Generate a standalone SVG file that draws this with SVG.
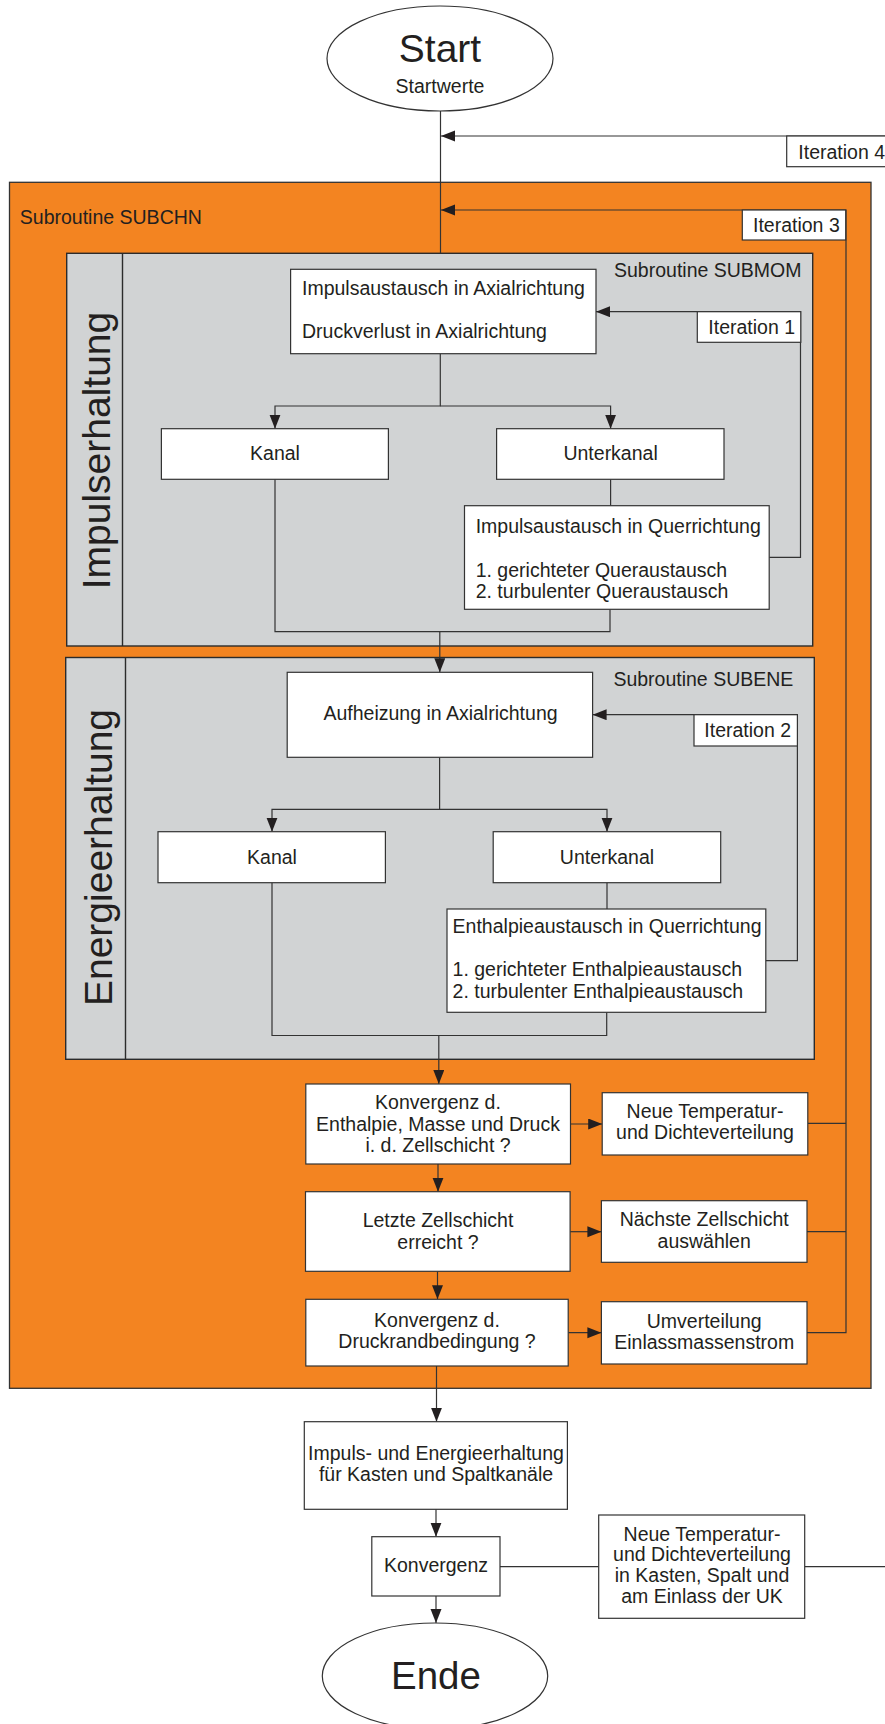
<svg xmlns="http://www.w3.org/2000/svg" width="885" height="1724" viewBox="0 0 885 1724">
<defs>
<marker id="arr" markerUnits="userSpaceOnUse" markerWidth="15" markerHeight="12" refX="14" refY="5.5" orient="auto">
<path d="M0,0 L14,5.5 L0,11 z" fill="#231F20"/>
</marker>
<style>
text{font-family:"Liberation Sans",Arial,Helvetica,sans-serif;fill:#231F20;font-size:19.5px}
.c{text-anchor:middle}
.big{font-size:39px}
.box{fill:#fff;stroke:#333;stroke-width:1.2}
.grey{fill:#D1D3D4;stroke:#2b2b2b;stroke-width:1.4}
.ln{fill:none;stroke:#333;stroke-width:1.2}
.a{marker-end:url(#arr)}
</style>
</defs>
<rect width="885" height="1724" fill="#fff"/>

<g id="subchn">
<rect x="9.5" y="182.3" width="861.5" height="1206" fill="#F38421" stroke="#333" stroke-width="1.3"/>
<text x="19.8" y="224.3">Subroutine SUBCHN</text>
</g>

<g id="impuls-section">
<rect class="grey" x="66.7" y="253.3" width="746" height="392.7"/>
<line x1="122.5" y1="253.3" x2="122.5" y2="646" stroke="#2b2b2b" stroke-width="1.4"/>
<text class="big c" transform="translate(110,450.5) rotate(-90)">Impulserhaltung</text>
<text x="614" y="277.3">Subroutine SUBMOM</text>
</g>

<g id="energie-section">
<rect class="grey" x="65.7" y="657.5" width="748.6" height="401.8"/>
<line x1="125.5" y1="657.5" x2="125.5" y2="1059.3" stroke="#2b2b2b" stroke-width="1.4"/>
<text class="big c" transform="translate(111.5,857.5) rotate(-90)">Energieerhaltung</text>
<text x="613.4" y="686">Subroutine SUBENE</text>
</g>

<g id="connectors">
<path class="ln" d="M440.5,111 V253.3"/>
<path class="ln a" d="M885,136 H441"/>
<path class="ln a" d="M807,1332.7 H846 V210 H441"/>
<path class="ln" d="M807.8,1123.3 H846 M807,1231.7 H846"/>
<path class="ln a" d="M769.2,557.3 H800.5 V311.7 H596"/>
<path class="ln a" d="M440.3,353.7 V406 H275 V428.7"/>
<path class="ln a" d="M440.3,406 H610.6 V428.7"/>
<path class="ln" d="M610.6,479.3 V505.7"/>
<path class="ln" d="M275,479.3 V631.7 H610 V609.3"/>
<path class="ln a" d="M439.8,631.7 V672.3"/>
<path class="ln a" d="M765.8,960.7 H797.4 V714.7 H592.6"/>
<path class="ln a" d="M439.6,757.3 V809.3 H272 V831.7"/>
<path class="ln a" d="M439.6,809.3 H607 V831.7"/>
<path class="ln" d="M607,882.7 V909"/>
<path class="ln" d="M272,882.7 V1035.5 H606.7 V1012.3"/>
<path class="ln a" d="M438.8,1035.5 V1084"/>
<path class="ln a" d="M438,1164 V1191.7"/>
<path class="ln a" d="M437.5,1271.3 V1299.3"/>
<path class="ln a" d="M436.5,1366 V1421.7"/>
<path class="ln a" d="M570.5,1124 H602.2"/>
<path class="ln a" d="M570.1,1231.7 H601.4"/>
<path class="ln a" d="M568.2,1332.7 H601.4"/>
<path class="ln a" d="M436,1509.3 V1536.7"/>
<path class="ln a" d="M436,1596 V1623"/>
<path class="ln" d="M500,1566.7 H598.7 M804.7,1566.7 H885"/>
</g>

<g id="start">
<ellipse cx="440" cy="58.5" rx="113" ry="52.5" fill="#fff" stroke="#333" stroke-width="1.2"/>
<text class="big c" x="440" y="62">Start</text>
<text class="c" x="440" y="93">Startwerte</text>
</g>

<g id="iteration4">
<rect class="box" x="786.7" y="136" width="110" height="30.7"/>
<text x="798.3" y="159.3">Iteration 4</text>
</g>

<g id="iteration3">
<rect class="box" x="742.3" y="210" width="103.4" height="30"/>
<text x="753" y="231.5">Iteration 3</text>
</g>

<g id="impuls-axial">
<rect class="box" x="290.6" y="269.3" width="305.4" height="84.4"/>
<text x="302" y="295">Impulsaustausch in Axialrichtung</text>
<text x="302" y="338.3">Druckverlust in Axialrichtung</text>
</g>

<g id="iteration1">
<rect class="box" x="697.3" y="311.7" width="103.5" height="30.6"/>
<text x="708.3" y="334.3">Iteration 1</text>
</g>

<g id="kanal-impuls">
<rect class="box" x="161.4" y="428.7" width="227" height="50.6"/>
<text class="c" x="275" y="460">Kanal</text>
</g>

<g id="unterkanal-impuls">
<rect class="box" x="496.6" y="428.7" width="227.4" height="50.6"/>
<text class="c" x="610.6" y="460">Unterkanal</text>
</g>

<g id="impuls-quer">
<rect class="box" x="464.5" y="505.7" width="304.7" height="103.6"/>
<text x="475.7" y="533.3">Impulsaustausch in Querrichtung</text>
<text x="475.7" y="576.7">1. gerichteter Queraustausch</text>
<text x="475.7" y="598.3">2. turbulenter Queraustausch</text>
</g>

<g id="aufheizung">
<rect class="box" x="287.2" y="672.3" width="305.4" height="85"/>
<text class="c" x="440.5" y="720">Aufheizung in Axialrichtung</text>
</g>

<g id="iteration2">
<rect class="box" x="694" y="714.7" width="103.4" height="31.3"/>
<text x="704.3" y="736.7">Iteration 2</text>
</g>

<g id="kanal-energie">
<rect class="box" x="158" y="831.7" width="227.4" height="51"/>
<text class="c" x="272" y="864">Kanal</text>
</g>

<g id="unterkanal-energie">
<rect class="box" x="493.2" y="831.7" width="227.5" height="51"/>
<text class="c" x="607" y="864">Unterkanal</text>
</g>

<g id="enthalpie-quer">
<rect class="box" x="447" y="909" width="318.8" height="103.3"/>
<text x="452.6" y="932.7">Enthalpieaustausch in Querrichtung</text>
<text x="452.6" y="976">1. gerichteter Enthalpieaustausch</text>
<text x="452.6" y="998.3">2. turbulenter Enthalpieaustausch</text>
</g>

<g id="konvergenz1">
<rect class="box" x="305.8" y="1084" width="264.7" height="80"/>
<text class="c" x="438" y="1109.3">Konvergenz d.</text>
<text class="c" x="438" y="1130.7">Enthalpie, Masse und Druck</text>
<text class="c" x="438" y="1152.3">i. d. Zellschicht ?</text>
</g>

<g id="neue-temp1">
<rect class="box" x="602.2" y="1092.7" width="205.6" height="62.3"/>
<text class="c" x="705" y="1117.7">Neue Temperatur-</text>
<text class="c" x="705" y="1139.3">und Dichteverteilung</text>
</g>

<g id="letzte">
<rect class="box" x="305.5" y="1191.7" width="264.6" height="79.6"/>
<text class="c" x="438" y="1226.7">Letzte Zellschicht</text>
<text class="c" x="438" y="1249.3">erreicht ?</text>
</g>

<g id="naechste">
<rect class="box" x="601.4" y="1200.7" width="205.6" height="61.6"/>
<text class="c" x="704.2" y="1225.7">Nächste Zellschicht</text>
<text class="c" x="704.2" y="1248.3">auswählen</text>
</g>

<g id="konvergenz2">
<rect class="box" x="305.8" y="1299.3" width="262.4" height="66.7"/>
<text class="c" x="437" y="1326.7">Konvergenz d.</text>
<text class="c" x="437" y="1348.3">Druckrandbedingung ?</text>
</g>

<g id="umverteilung">
<rect class="box" x="601.4" y="1301.7" width="205.6" height="62.3"/>
<text class="c" x="704.2" y="1328.3">Umverteilung</text>
<text class="c" x="704.2" y="1349.3">Einlassmassenstrom</text>
</g>

<g id="kasten">
<rect class="box" x="304.3" y="1421.7" width="263.1" height="87.6"/>
<text class="c" x="436" y="1460">Impuls- und Energieerhaltung</text>
<text class="c" x="436" y="1481">für Kasten und Spaltkanäle</text>
</g>

<g id="konvergenz3">
<rect class="box" x="371.8" y="1536.7" width="128.2" height="59.3"/>
<text class="c" x="436" y="1571.7">Konvergenz</text>
</g>

<g id="neue-temp2">
<rect class="box" x="598.7" y="1515" width="206" height="103.3"/>
<text class="c" x="702" y="1540.7">Neue Temperatur-</text>
<text class="c" x="702" y="1561">und Dichteverteilung</text>
<text class="c" x="702" y="1581.7">in Kasten, Spalt und</text>
<text class="c" x="702" y="1602.7">am Einlass der UK</text>
</g>

<g id="ende">
<ellipse cx="435" cy="1676" rx="112.7" ry="53" fill="#fff" stroke="#333" stroke-width="1.2"/>
<text class="c" x="436" y="1689.3" style="font-size:38.5px">Ende</text>
</g>
</svg>
